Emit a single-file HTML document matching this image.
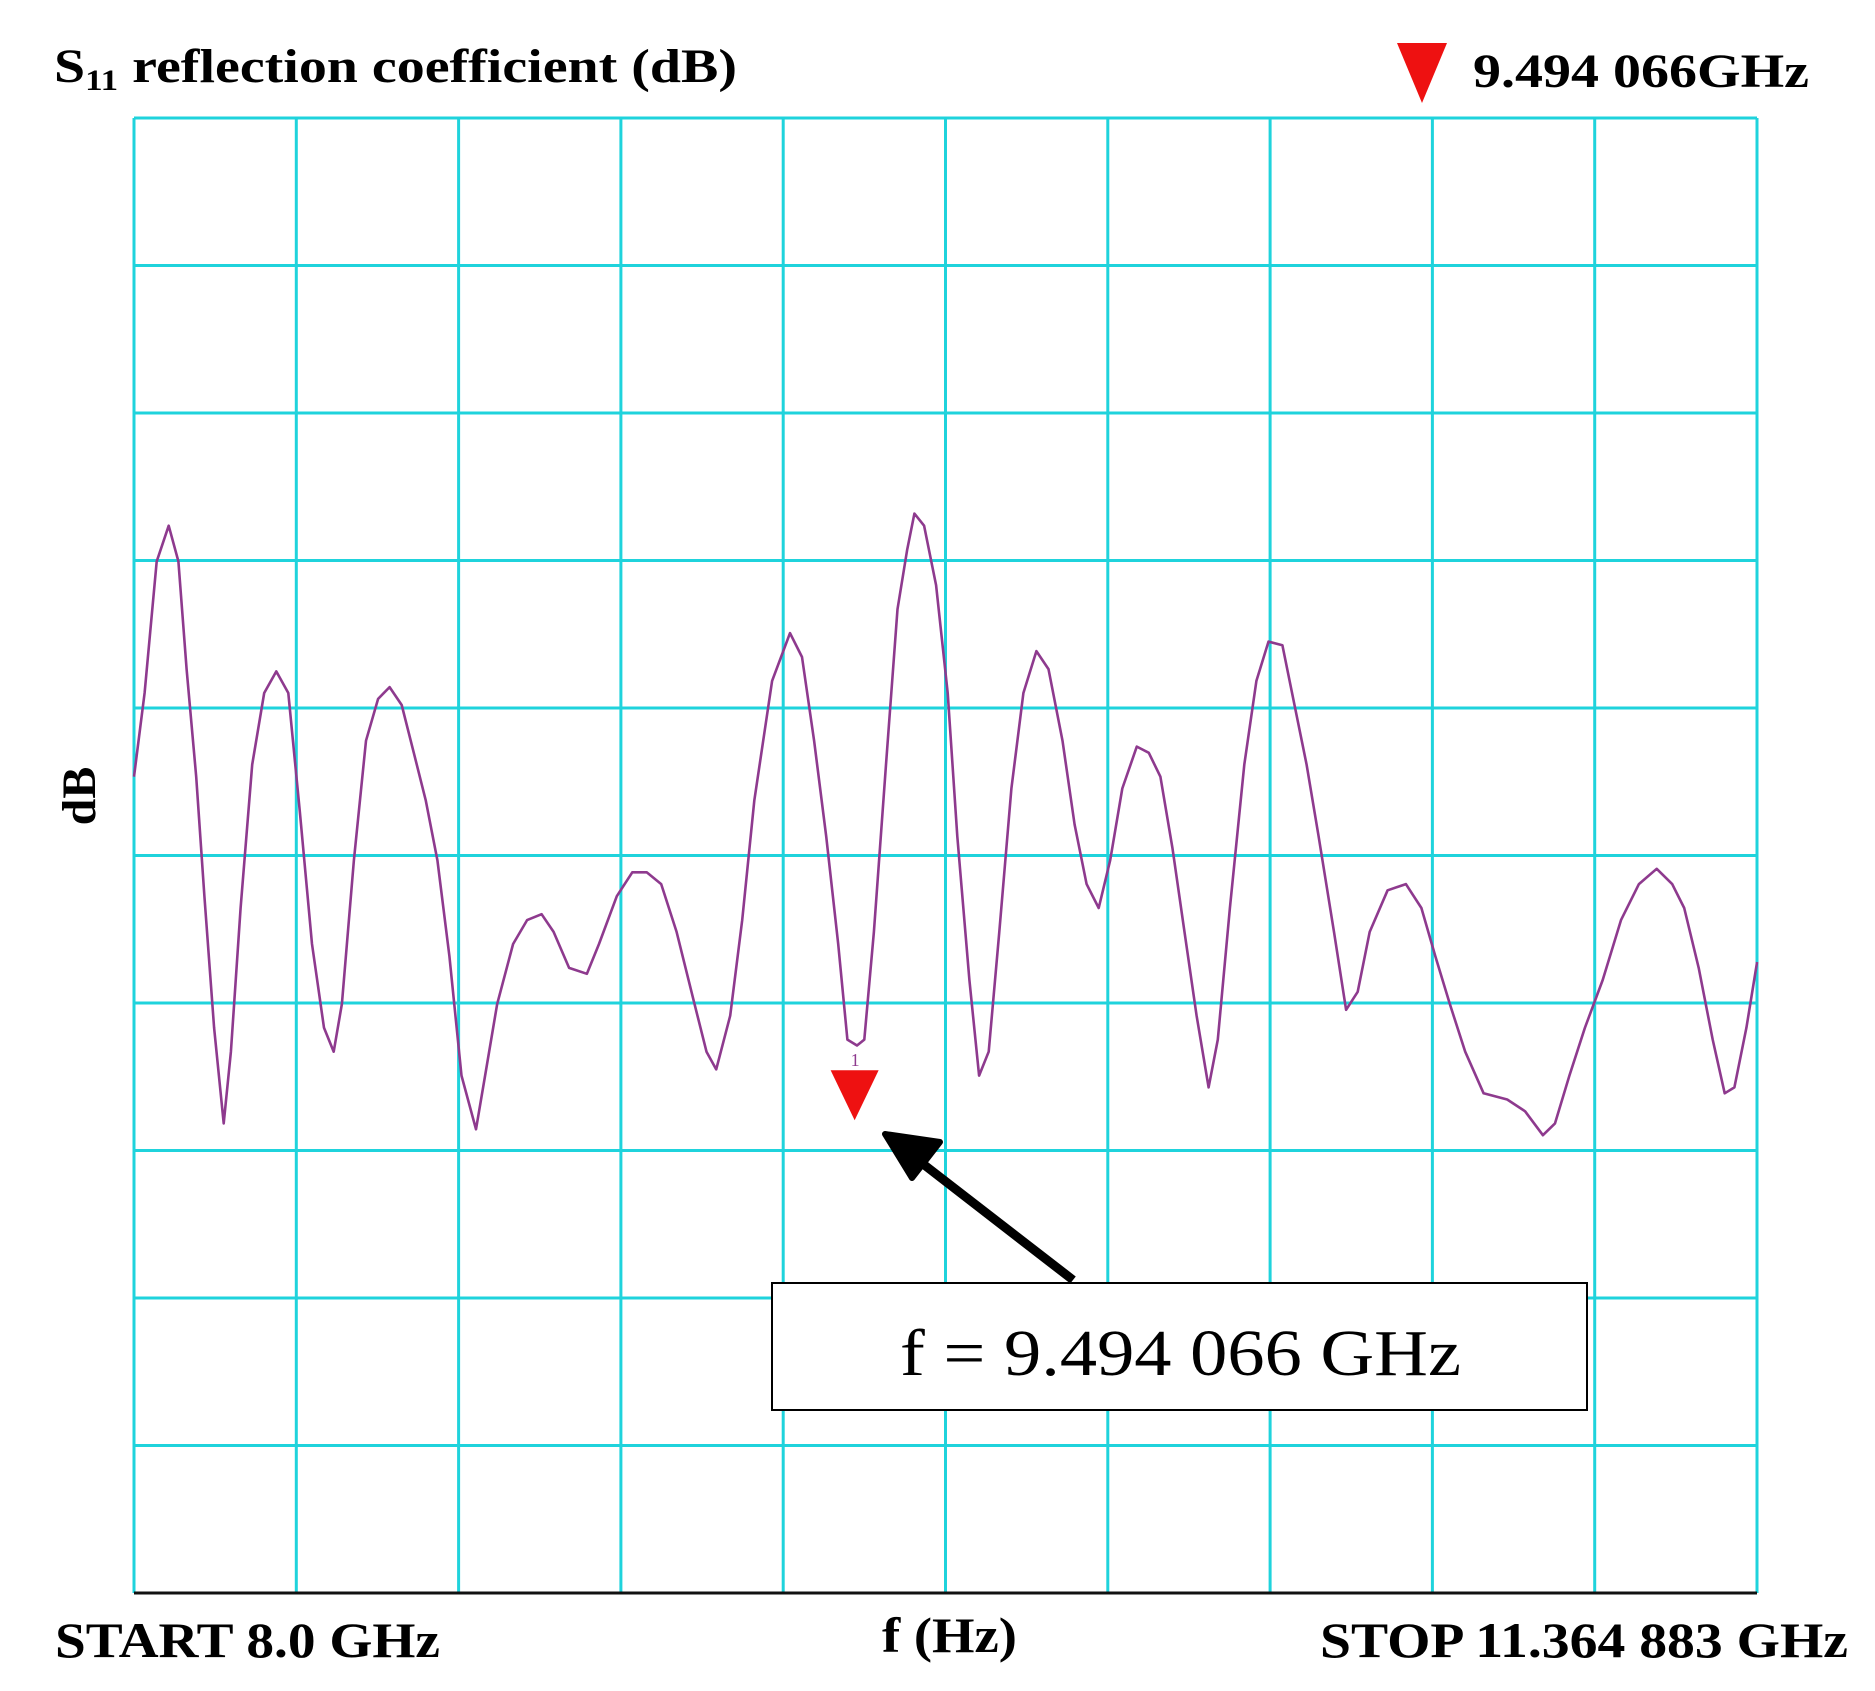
<!DOCTYPE html>
<html><head><meta charset="utf-8"><style>
html,body{margin:0;padding:0;background:#fff;}
svg{display:block;}
text{font-family:"Liberation Serif",serif;}
</style></head><body>
<svg id="chart" width="1875" height="1691" viewBox="0 0 1875 1691" xmlns="http://www.w3.org/2000/svg">
<g id="grid"></g>
<line x1="134" y1="1593" x2="1757" y2="1593" stroke="#111" stroke-width="3"/>
<polyline id="trace" fill="none" stroke="#8e3a8e" stroke-width="2.6" stroke-linejoin="round"/>
<text x="54" y="82" font-size="48" font-weight="bold" textLength="683" lengthAdjust="spacingAndGlyphs">S<tspan font-size="30" dy="8">11</tspan><tspan dy="-8"> reflection coefficient (dB)</tspan></text>
<polygon points="1397,43 1447,43 1422,103" fill="#ee1111"/>
<text x="1473" y="87" font-size="48" font-weight="bold" textLength="336" lengthAdjust="spacingAndGlyphs">9.494 066GHz</text>
<text x="0" y="0" font-size="48" font-weight="bold" transform="translate(95,796) rotate(-90)" text-anchor="middle">dB</text>
<text x="55" y="1657" font-size="50" font-weight="bold" textLength="385" lengthAdjust="spacingAndGlyphs">START 8.0 GHz</text>
<text x="882" y="1652" font-size="50" font-weight="bold" textLength="135" lengthAdjust="spacingAndGlyphs">f (Hz)</text>
<text x="1320" y="1657" font-size="50" font-weight="bold" textLength="528" lengthAdjust="spacingAndGlyphs">STOP 11.364 883 GHz</text>
<g id="marker"></g>
<line x1="1073" y1="1280" x2="905" y2="1150" stroke="#000" stroke-width="9"/>
<polygon points="885,1134 940,1142 912,1178" fill="#000" stroke="#000" stroke-width="6" stroke-linejoin="round"/>
<rect x="772" y="1283" width="815" height="127" fill="#fff" stroke="#000" stroke-width="2"/>
<text x="900" y="1375" font-size="66" textLength="561" lengthAdjust="spacingAndGlyphs">f = 9.494 066 GHz</text>
</svg>
<script>
const freqGHz=[8.000,8.022,8.047,8.072,8.092,8.109,8.129,8.146,8.166,8.186,8.201,8.221,8.245,8.270,8.295,8.320,8.344,8.369,8.394,8.414,8.431,8.456,8.481,8.506,8.530,8.555,8.580,8.605,8.629,8.654,8.679,8.709,8.728,8.753,8.786,8.815,8.845,8.870,8.902,8.939,8.964,9.001,9.033,9.063,9.093,9.125,9.162,9.187,9.207,9.236,9.261,9.286,9.323,9.360,9.385,9.410,9.435,9.460,9.479,9.499,9.514,9.534,9.559,9.583,9.603,9.618,9.638,9.663,9.687,9.707,9.732,9.752,9.772,9.794,9.819,9.844,9.871,9.896,9.925,9.950,9.975,10.000,10.024,10.049,10.079,10.104,10.128,10.153,10.178,10.203,10.228,10.247,10.272,10.302,10.327,10.352,10.381,10.406,10.431,10.456,10.488,10.513,10.537,10.562,10.599,10.637,10.669,10.698,10.728,10.760,10.798,10.847,10.884,10.921,10.946,10.976,11.008,11.045,11.083,11.120,11.157,11.189,11.214,11.244,11.273,11.298,11.318,11.343,11.365];
const s11dB=[-22.33,-19.49,-15.03,-13.82,-15.03,-18.68,-22.33,-26.38,-30.84,-34.08,-31.65,-26.78,-21.92,-19.49,-18.76,-19.49,-23.54,-28.00,-30.84,-31.65,-30.03,-25.16,-21.11,-19.69,-19.29,-19.90,-21.52,-23.14,-25.16,-28.41,-32.46,-34.28,-32.46,-30.03,-28.00,-27.19,-26.99,-27.59,-28.81,-29.01,-28.00,-26.38,-25.57,-25.57,-25.97,-27.59,-30.03,-31.65,-32.25,-30.43,-27.19,-23.14,-19.08,-17.46,-18.27,-21.11,-24.35,-28.00,-31.24,-31.44,-31.24,-27.59,-21.92,-16.65,-14.63,-13.41,-13.82,-15.84,-19.49,-24.35,-29.22,-32.46,-31.65,-27.59,-22.73,-19.49,-18.07,-18.68,-21.11,-23.95,-25.97,-26.78,-25.16,-22.73,-21.31,-21.52,-22.33,-24.76,-27.59,-30.43,-32.86,-31.24,-26.78,-21.92,-19.08,-17.75,-17.87,-19.90,-21.92,-24.35,-27.59,-30.23,-29.62,-27.59,-26.18,-25.97,-26.78,-28.41,-30.03,-31.65,-33.06,-33.27,-33.67,-34.48,-34.08,-32.46,-30.84,-29.22,-27.19,-25.97,-25.45,-25.97,-26.78,-28.81,-31.24,-33.06,-32.86,-30.84,-28.61];
const xRange=[8.0,11.364883];
const yRange=[0,-50];
const gridDivisions=[0,1,2,3,4,5,6,7,8,9,10];
const markerFreq=[9.494066];
const markerDB=[-31.6];

const L=134,R=1757,T=118,B=1593;
const X=f=>L+(f-xRange[0])/(xRange[1]-xRange[0])*(R-L);
const Y=d=>T+(d-yRange[0])/(yRange[1]-yRange[0])*(B-T);
const ns="http://www.w3.org/2000/svg";
const grid=document.getElementById('grid');
gridDivisions.forEach(i=>{
  const x=L+i*(R-L)/10, y=T+i*(B-T)/10;
  const v=document.createElementNS(ns,'line');
  v.setAttribute('x1',x);v.setAttribute('x2',x);v.setAttribute('y1',T);v.setAttribute('y2',B);
  v.setAttribute('stroke','#1fd3dc');v.setAttribute('stroke-width','3');
  
  
  grid.appendChild(v);
  const h=document.createElementNS(ns,'line');
  h.setAttribute('x1',L);h.setAttribute('x2',R);h.setAttribute('y1',y);h.setAttribute('y2',y);
  h.setAttribute('stroke','#1fd3dc');h.setAttribute('stroke-width','3');
  
  
  grid.appendChild(h);
});
document.getElementById('trace').setAttribute('points',freqGHz.map((f,i)=>X(f).toFixed(1)+','+Y(s11dB[i]).toFixed(1)).join(' '));
const mg=document.getElementById('marker');
const mx=X(markerFreq[0]), my=Y(markerDB[0]);
const tri=document.createElementNS(ns,'polygon');
tri.setAttribute('points',(mx-24)+','+(my+20)+' '+(mx+24)+','+(my+20)+' '+mx+','+(my+70));
tri.setAttribute('fill','#ee1111');


mg.appendChild(tri);
const lbl=document.createElementNS(ns,'text');
lbl.setAttribute('x',mx-4);lbl.setAttribute('y',my+16);lbl.setAttribute('font-size','18');lbl.setAttribute('fill','#8e3a8e');
lbl.textContent='1';


mg.appendChild(lbl);
</script>
</body></html>
